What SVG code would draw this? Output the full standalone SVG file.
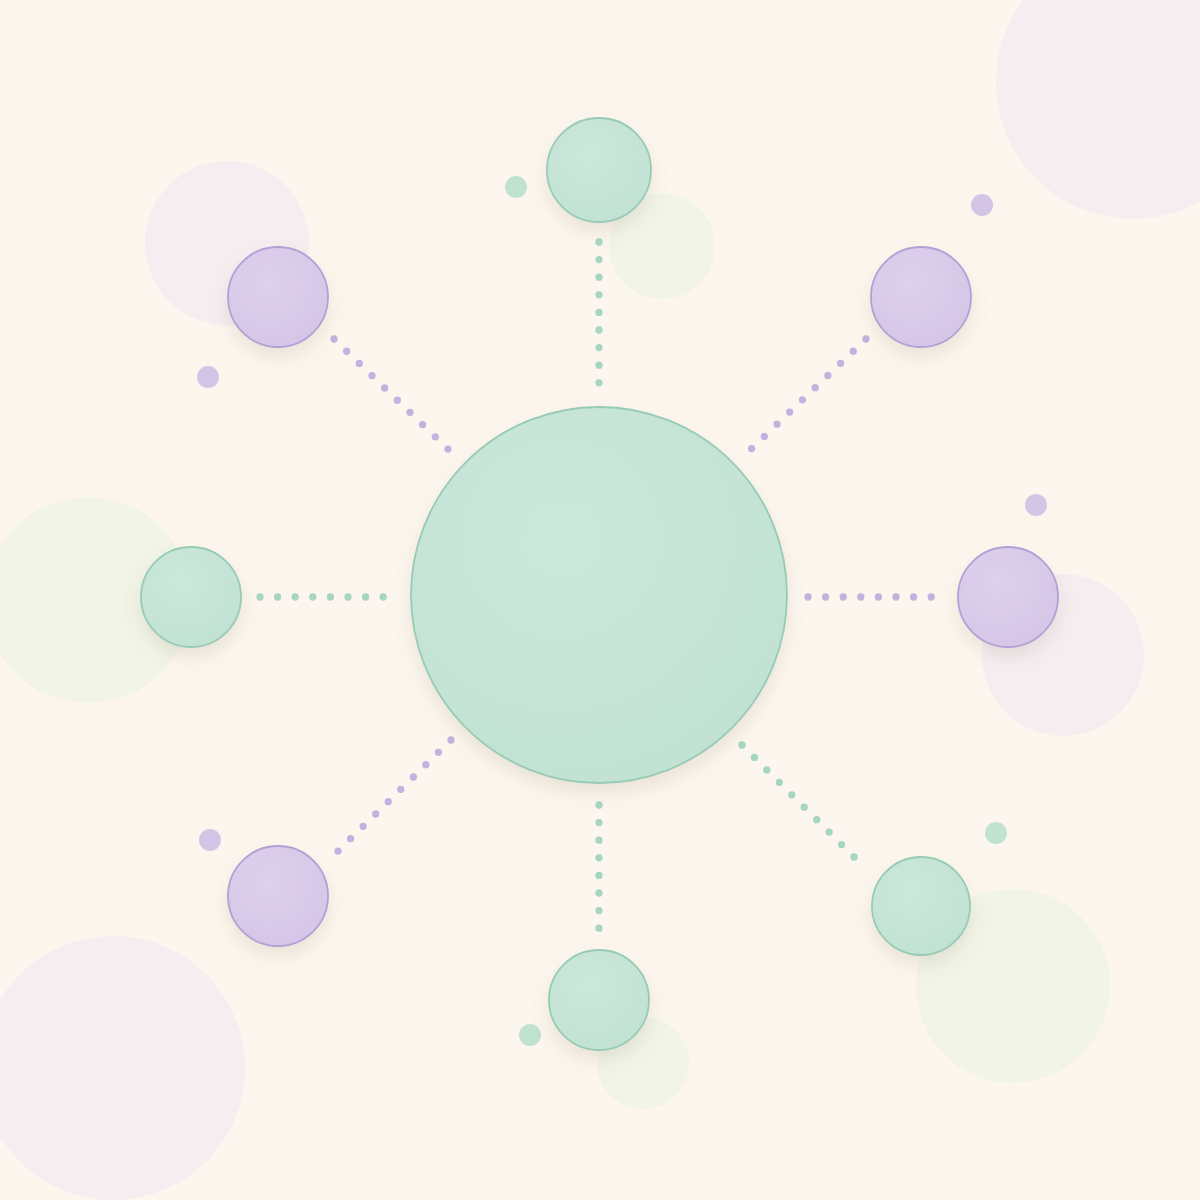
<svg xmlns="http://www.w3.org/2000/svg" width="1200" height="1200" viewBox="0 0 1200 1200">
<defs>
<filter id="sh" x="-40%" y="-40%" width="180%" height="190%">
<feDropShadow dx="0" dy="9" stdDeviation="9" flood-color="#8a7a60" flood-opacity="0.16"/>
</filter>
<radialGradient id="gG" cx="40%" cy="35%" r="70%">
<stop offset="0" stop-color="#cbe8db"/>
<stop offset="1" stop-color="#c1e2d3"/>
</radialGradient>
<radialGradient id="gP" cx="40%" cy="35%" r="70%">
<stop offset="0" stop-color="#ded1ec"/>
<stop offset="1" stop-color="#d5c5e7"/>
</radialGradient>
</defs>
<style>
.g{fill:url(#gG);stroke:#98cbb5;stroke-width:1.8;filter:url(#sh)}
.p{fill:url(#gP);stroke:#b4a0d4;stroke-width:1.8;filter:url(#sh)}
.dg{stroke:#a4d6c0;stroke-width:7.3;stroke-linecap:round;stroke-dasharray:0 17.6;fill:none}
.dp{stroke:#c3b1de;stroke-width:7.3;stroke-linecap:round;stroke-dasharray:0 17.6;fill:none}
.bg{fill:#eef3e4;opacity:0.75}
.bp{fill:#f4ecf0;opacity:0.9}
.sg{fill:#c0e2d1}
.sp{fill:#d4c5e7}
</style>
<rect width="1200" height="1200" fill="#fcf6ee"/>
<g id="decor">
<circle class="bp" cx="1133" cy="82" r="137"/>
<circle class="bp" cx="227" cy="243" r="82"/>
<circle class="bg" cx="88" cy="600" r="103"/>
<circle class="bp" cx="1063" cy="655" r="81"/>
<circle class="bp" cx="113" cy="1068" r="132"/>
<circle class="bg" cx="1013" cy="986" r="97"/>
<circle class="bg" cx="662" cy="246" r="53"/>
<circle class="bg" cx="643" cy="1063" r="46"/>
<circle class="sg" cx="516" cy="187" r="11"/>
<circle class="sp" cx="982" cy="205" r="11"/>
<circle class="sp" cx="208" cy="377" r="11"/>
<circle class="sp" cx="1036" cy="505" r="11"/>
<circle class="sp" cx="210" cy="840" r="11"/>
<circle class="sg" cx="996" cy="833" r="11"/>
<circle class="sg" cx="530" cy="1035" r="11"/>
</g>
<g id="connectors">
<path class="dg" d="M599 242 L599 384"/>
<path class="dg" d="M599 805 L599 930"/>
<path class="dg" d="M260 597 L390 597"/>
<path class="dp" d="M808 597 L940 597"/>
<path class="dp" d="M334 339 L451 452"/>
<path class="dp" d="M866 339 L748 452"/>
<path class="dp" d="M451 740 L334 855"/>
<path class="dg" d="M742 745 L863 866"/>
</g>
<g id="center"><circle class="g" cx="599" cy="595" r="188"/></g>
<g id="n-top"><circle class="g" cx="599" cy="170" r="52"/></g>
<g id="n-bottom"><circle class="g" cx="599" cy="1000" r="50"/></g>
<g id="n-left"><circle class="g" cx="191" cy="597" r="50"/></g>
<g id="n-right"><circle class="p" cx="1008" cy="597" r="50"/></g>
<g id="n-topleft"><circle class="p" cx="278" cy="297" r="50"/></g>
<g id="n-topright"><circle class="p" cx="921" cy="297" r="50"/></g>
<g id="n-bottomleft"><circle class="p" cx="278" cy="896" r="50"/></g>
<g id="n-bottomright"><circle class="g" cx="921" cy="906" r="49"/></g>
</svg>
